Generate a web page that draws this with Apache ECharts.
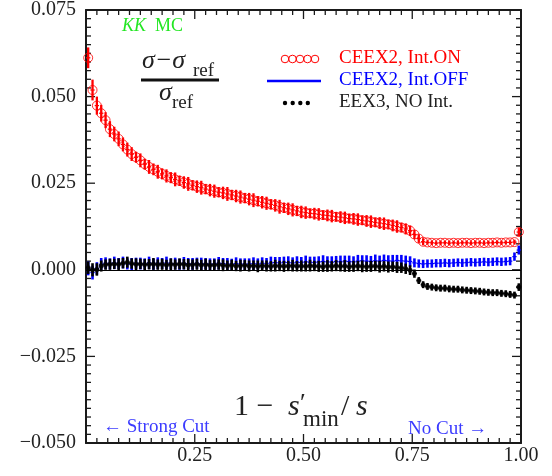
<!DOCTYPE html>
<html>
<head>
<meta charset="utf-8">
<script src="https://cdn.jsdelivr.net/npm/echarts@6/dist/echarts.min.js"></script>
<style>
html, body { margin: 0; padding: 0; background: #fff; }
#main { width: 552px; height: 476px; }
</style>
</head>
<body>
<div id="main"></div>
<script>
// bin centres of 1 - s'min/s
var binX = [
  0.005, 0.015, 0.025, 0.035, 0.045, 0.055, 0.065, 0.075, 0.085, 0.095,
  0.105, 0.115, 0.125, 0.135, 0.145, 0.155, 0.165, 0.175, 0.185, 0.195,
  0.205, 0.215, 0.225, 0.235, 0.245, 0.255, 0.265, 0.275, 0.285, 0.295,
  0.305, 0.315, 0.325, 0.335, 0.345, 0.355, 0.365, 0.375, 0.385, 0.395,
  0.405, 0.415, 0.425, 0.435, 0.445, 0.455, 0.465, 0.475, 0.485, 0.495,
  0.505, 0.515, 0.525, 0.535, 0.545, 0.555, 0.565, 0.575, 0.585, 0.595,
  0.605, 0.615, 0.625, 0.635, 0.645, 0.655, 0.665, 0.675, 0.685, 0.695,
  0.705, 0.715, 0.725, 0.735, 0.745, 0.755, 0.765, 0.775, 0.785, 0.795,
  0.805, 0.815, 0.825, 0.835, 0.845, 0.855, 0.865, 0.875, 0.885, 0.895,
  0.905, 0.915, 0.925, 0.935, 0.945, 0.955, 0.965, 0.975, 0.985, 0.995
];

// CEEX2, Int.ON
var ceexOn = [
  0.0612, 0.0519, 0.0474, 0.0452, 0.0432, 0.0406, 0.0392, 0.0378, 0.0362, 0.0347,
  0.0334, 0.0325, 0.0316, 0.0305, 0.0297, 0.0290, 0.0283, 0.0277, 0.0271, 0.0266,
  0.0261, 0.0257, 0.0252, 0.0248, 0.0244, 0.0240, 0.0237, 0.0233, 0.0230, 0.0227,
  0.0224, 0.0222, 0.0219, 0.0216, 0.0213, 0.0210, 0.0207, 0.0204, 0.0201, 0.0198,
  0.0195, 0.0192, 0.0189, 0.0186, 0.0182, 0.0179, 0.0176, 0.0173, 0.0170, 0.0167,
  0.0165, 0.0163, 0.0162, 0.0160, 0.0158, 0.0157, 0.0155, 0.0153, 0.0152, 0.0150,
  0.0148, 0.0147, 0.0145, 0.0143, 0.0141, 0.0139, 0.0137, 0.0135, 0.0133, 0.0131,
  0.0128, 0.0125, 0.0122, 0.0118, 0.0113, 0.0102, 0.0090, 0.0081, 0.0079, 0.0078,
  0.0077, 0.0078, 0.0078, 0.0077, 0.0078, 0.0077, 0.0078, 0.0078, 0.0077, 0.0078,
  0.0078, 0.0077, 0.0078, 0.0078, 0.0079, 0.0078, 0.0079, 0.0079, 0.0080, 0.0109
];
var ceexOnErr = [
  0.0030, 0.0030, 0.0026, 0.0024, 0.0023, 0.0023, 0.0021, 0.0021, 0.0020, 0.0020,
  0.0020, 0.0016, 0.0020, 0.0016, 0.0020, 0.0017, 0.0020, 0.0016, 0.0019, 0.0016,
  0.0020, 0.0015, 0.0018, 0.0020, 0.0015, 0.0018, 0.0020, 0.0015, 0.0018, 0.0019,
  0.0015, 0.0018, 0.0020, 0.0015, 0.0018, 0.0019, 0.0015, 0.0018, 0.0020, 0.0015,
  0.0018, 0.0019, 0.0015, 0.0018, 0.0020, 0.0015, 0.0018, 0.0019, 0.0015, 0.0018,
  0.0018, 0.0014, 0.0017, 0.0018, 0.0014, 0.0017, 0.0018, 0.0014, 0.0017, 0.0018,
  0.0014, 0.0017, 0.0018, 0.0014, 0.0017, 0.0018, 0.0014, 0.0017, 0.0018, 0.0014,
  0.0017, 0.0018, 0.0014, 0.0016, 0.0015, 0.0013, 0.0012, 0.0010, 0.0006, 0.0006,
  0.0005, 0.0006, 0.0005, 0.0006, 0.0005, 0.0006, 0.0005, 0.0006, 0.0005, 0.0006,
  0.0005, 0.0006, 0.0005, 0.0006, 0.0005, 0.0006, 0.0005, 0.0006, 0.0007, 0.0012
];

// CEEX2, Int.OFF
var ceexOff = [
  0.0004, -0.0008, 0.0004, 0.0016, 0.0019, 0.0017, 0.0020, 0.0018, 0.0021, 0.0017,
  0.0016, 0.0019, 0.0018, 0.0017, 0.0020, 0.0016, 0.0019, 0.0018, 0.0020, 0.0017,
  0.0018, 0.0016, 0.0019, 0.0018, 0.0017, 0.0019, 0.0017, 0.0018, 0.0016, 0.0017,
  0.0019, 0.0018, 0.0017, 0.0016, 0.0018, 0.0017, 0.0016, 0.0017, 0.0018, 0.0017,
  0.0019, 0.0018, 0.0020, 0.0021, 0.0020, 0.0022, 0.0021, 0.0020, 0.0022, 0.0021,
  0.0023, 0.0022, 0.0021, 0.0023, 0.0024, 0.0023, 0.0022, 0.0024, 0.0023, 0.0025,
  0.0024, 0.0023, 0.0025, 0.0026, 0.0025, 0.0024, 0.0026, 0.0025, 0.0027, 0.0026,
  0.0025, 0.0027, 0.0026, 0.0025, 0.0024, 0.0020, 0.0018, 0.0017, 0.0018, 0.0018,
  0.0019, 0.0019, 0.0020, 0.0019, 0.0020, 0.0021, 0.0020, 0.0021, 0.0022, 0.0021,
  0.0022, 0.0023, 0.0022, 0.0023, 0.0024, 0.0023, 0.0024, 0.0025, 0.0038, 0.0057
];
var ceexOffErr = [
  0.0020, 0.0020, 0.0018, 0.0018, 0.0017, 0.0016, 0.0018, 0.0016, 0.0017, 0.0016,
  0.0018, 0.0016, 0.0017, 0.0016, 0.0018, 0.0016, 0.0017, 0.0016, 0.0018, 0.0016,
  0.0017, 0.0016, 0.0018, 0.0016, 0.0017, 0.0016, 0.0018, 0.0016, 0.0017, 0.0016,
  0.0018, 0.0016, 0.0017, 0.0016, 0.0018, 0.0016, 0.0017, 0.0016, 0.0018, 0.0016,
  0.0017, 0.0016, 0.0018, 0.0016, 0.0017, 0.0016, 0.0018, 0.0016, 0.0017, 0.0016,
  0.0018, 0.0016, 0.0017, 0.0016, 0.0018, 0.0016, 0.0017, 0.0016, 0.0018, 0.0016,
  0.0017, 0.0016, 0.0018, 0.0016, 0.0017, 0.0016, 0.0018, 0.0016, 0.0017, 0.0016,
  0.0018, 0.0016, 0.0017, 0.0016, 0.0015, 0.0013, 0.0012, 0.0012, 0.0012, 0.0012,
  0.0012, 0.0012, 0.0012, 0.0012, 0.0012, 0.0012, 0.0012, 0.0012, 0.0012, 0.0012,
  0.0012, 0.0012, 0.0012, 0.0012, 0.0012, 0.0012, 0.0012, 0.0012, 0.0012, 0.0013
];

// EEX3, NO Int.
var eex3 = [
  0.0006, 0.0000, 0.0001, 0.0011, 0.0015, 0.0016, 0.0017, 0.0016, 0.0019, 0.0022,
  0.0018, 0.0016, 0.0017, 0.0015, 0.0016, 0.0017, 0.0015, 0.0016, 0.0014, 0.0016,
  0.0015, 0.0017, 0.0016, 0.0014, 0.0015, 0.0016, 0.0014, 0.0015, 0.0013, 0.0014,
  0.0015, 0.0013, 0.0012, 0.0013, 0.0011, 0.0012, 0.0013, 0.0011, 0.0012, 0.0010,
  0.0012, 0.0011, 0.0010, 0.0012, 0.0011, 0.0010, 0.0011, 0.0012, 0.0010, 0.0011,
  0.0010, 0.0012, 0.0011, 0.0010, 0.0009, 0.0011, 0.0010, 0.0012, 0.0010, 0.0011,
  0.0009, 0.0010, 0.0011, 0.0010, 0.0009, 0.0010, 0.0011, 0.0009, 0.0010, 0.0008,
  0.0009, 0.0007, 0.0006, 0.0003, -0.0001, -0.0011, -0.0031, -0.0043, -0.0048, -0.0050,
  -0.0052, -0.0053, -0.0053, -0.0055, -0.0056, -0.0056, -0.0058, -0.0059, -0.0060, -0.0061,
  -0.0062, -0.0064, -0.0065, -0.0066, -0.0066, -0.0068, -0.0069, -0.0071, -0.0073, -0.0050
];
var eex3Err = [
  0.0018, 0.0019, 0.0018, 0.0016, 0.0015, 0.0016, 0.0015, 0.0017, 0.0015, 0.0016,
  0.0015, 0.0017, 0.0015, 0.0016, 0.0015, 0.0017, 0.0015, 0.0016, 0.0015, 0.0017,
  0.0015, 0.0016, 0.0015, 0.0017, 0.0015, 0.0016, 0.0015, 0.0017, 0.0015, 0.0016,
  0.0015, 0.0017, 0.0015, 0.0016, 0.0015, 0.0017, 0.0015, 0.0016, 0.0015, 0.0017,
  0.0015, 0.0016, 0.0015, 0.0017, 0.0015, 0.0016, 0.0015, 0.0017, 0.0015, 0.0016,
  0.0015, 0.0017, 0.0015, 0.0016, 0.0015, 0.0017, 0.0015, 0.0016, 0.0015, 0.0017,
  0.0015, 0.0016, 0.0015, 0.0017, 0.0015, 0.0016, 0.0015, 0.0017, 0.0015, 0.0016,
  0.0015, 0.0016, 0.0015, 0.0015, 0.0014, 0.0012, 0.0010, 0.0010, 0.0010, 0.0010,
  0.0010, 0.0010, 0.0010, 0.0010, 0.0010, 0.0010, 0.0010, 0.0010, 0.0010, 0.0010,
  0.0010, 0.0010, 0.0010, 0.0010, 0.0010, 0.0010, 0.0010, 0.0010, 0.0010, 0.0011
];

var xTickLabels = ['', '0.25', '0.50', '0.75', '1.00'];
var yTickLabels = ['\u22120.050', '\u22120.025', '0.000', '0.025', '0.050', '0.075'];

var X_MIN = 0, X_MAX = 1, Y_MIN = -0.05, Y_MAX = 0.075;
var SERIF = '"Liberation Serif", "DejaVu Serif", serif';
var RED = '#ff0000', BLUE = '#0000ff', BLACK = '#000000', INK = '#1a1a1a';

// tick marks of the frame: [value, kind] kind 0 x-major, 1 x-minor, 2 y-major, 3 y-minor
var frameTicks = [];
for (var i = 1; i < 40; i++) frameTicks.push([i * 0.025, i % 10 === 0 ? 0 : 1]);
for (var j = 1; j < 50; j++) frameTicks.push([Y_MIN + j * 0.0025, j % 10 === 0 ? 2 : 3]);

function pack(ys, errs) {
  return binX.map(function (x, i) { return [x, ys[i], errs[i]]; });
}

// vertical error bar + horizontal bin segment
function errBars(color, barWidth) {
  return function (params, api) {
    var x = api.value(0), y = api.value(1), e = api.value(2);
    var lo = api.coord([x, y - e]), hi = api.coord([x, y + e]);
    var l = api.coord([x - 0.005, y]), r = api.coord([x + 0.005, y]);
    return {
      type: 'group',
      children: [
        { type: 'line', shape: { x1: lo[0], y1: lo[1], x2: hi[0], y2: hi[1] },
          style: { stroke: color, lineWidth: barWidth } },
        { type: 'line', shape: { x1: l[0], y1: l[1], x2: r[0], y2: r[1] },
          style: { stroke: color, lineWidth: 1.2 } }
      ]
    };
  };
}

// inward ticks on all four sides, placed through the axes' scales
function renderTicks(params, api) {
  var v = api.value(0), kind = api.value(1);
  var len = (kind === 0 || kind === 2) ? 9 : 5;
  var st = { stroke: INK, lineWidth: 1.3 };
  var a, b;
  if (kind < 2) {
    a = api.coord([v, Y_MIN]); b = api.coord([v, Y_MAX]);
    return { type: 'group', children: [
      { type: 'line', shape: { x1: a[0], y1: a[1], x2: a[0], y2: a[1] - len }, style: st },
      { type: 'line', shape: { x1: b[0], y1: b[1], x2: b[0], y2: b[1] + len }, style: st }
    ] };
  }
  a = api.coord([X_MIN, v]); b = api.coord([X_MAX, v]);
  return { type: 'group', children: [
    { type: 'line', shape: { x1: a[0], y1: a[1], x2: a[0] + len, y2: a[1] }, style: st },
    { type: 'line', shape: { x1: b[0], y1: b[1], x2: b[0] - len, y2: b[1] }, style: st }
  ] };
}

function frameAxis(extra) {
  var o = {
    type: 'value',
    axisLine: { show: true, onZero: false, lineStyle: { color: INK, width: 2 } },
    axisTick: { show: false },
    minorTick: { show: false },
    splitLine: { show: false }
  };
  for (var k in extra) o[k] = extra[k];
  return o;
}

var labelFont = { fontFamily: SERIF, fontSize: 20, color: '#222' };

var chart = echarts.init(document.getElementById('main'));

var option = {
  animation: false,
  backgroundColor: '#fff',
  grid: { left: 86, right: 31, top: 9, bottom: 33 },
  xAxis: [
    frameAxis({ min: X_MIN, max: X_MAX, interval: 0.25,
      axisLabel: Object.assign({ margin: 3, formatter: function (v) {
        return xTickLabels[Math.round(v / 0.25)] || '';
      } }, labelFont) }),
    frameAxis({ position: 'top', min: X_MIN, max: X_MAX, interval: 0.25, axisLabel: { show: false } })
  ],
  yAxis: [
    frameAxis({ min: Y_MIN, max: Y_MAX, interval: 0.025,
      axisLabel: Object.assign({ margin: 10, formatter: function (v) {
        return yTickLabels[Math.round((v - Y_MIN) / 0.025)] || '';
      } }, labelFont) }),
    frameAxis({ position: 'right', min: Y_MIN, max: Y_MAX, interval: 0.025, axisLabel: { show: false } })
  ],
  series: [
    {
      name: 'ticks',
      type: 'custom',
      silent: true,
      renderItem: renderTicks,
      data: frameTicks,
      encode: { x: 0 }
    },
    {
      name: 'CEEX2, Int.OFF',
      type: 'custom',
      renderItem: errBars(BLUE, 2.6),
      data: pack(ceexOff, ceexOffErr),
      encode: { x: 0, y: 1 },
      markLine: {
        silent: true,
        symbol: 'none',
        label: { show: false },
        lineStyle: { color: '#000', width: 1, type: 'solid' },
        data: [{ yAxis: 0 }]
      }
    },
    {
      name: 'EEX3, NO Int.',
      type: 'custom',
      renderItem: errBars(BLACK, 2.6),
      data: pack(eex3, eex3Err),
      encode: { x: 0, y: 1 }
    },
    {
      name: 'EEX3 dots',
      type: 'scatter',
      data: binX.map(function (x, i) { return [x, eex3[i]]; }),
      symbol: 'circle',
      symbolSize: 5,
      itemStyle: { color: BLACK }
    },
    {
      name: 'CEEX2, Int.ON',
      type: 'custom',
      renderItem: errBars(RED, 2.3),
      data: pack(ceexOn, ceexOnErr),
      encode: { x: 0, y: 1 }
    },
    {
      name: 'CEEX2 circles',
      type: 'scatter',
      data: binX.map(function (x, i) { return [x, ceexOn[i]]; }),
      symbol: 'circle',
      symbolSize: 9,
      itemStyle: { color: 'transparent', borderColor: RED, borderWidth: 1 }
    }
  ],
  graphic: [
    // KK MC
    { type: 'text', left: 122, top: 17, style: { text: 'KK', fill: '#22e622', font: 'italic 18px ' + SERIF } },
    { type: 'text', left: 155, top: 17, style: { text: 'MC', fill: '#22e622', font: '18px ' + SERIF } },
    // (sigma - sigma_ref) / sigma_ref
    { type: 'text', left: 142, top: 48, style: { text: '\u03c3\u2212\u03c3', fill: '#222', font: 'italic 26px ' + SERIF } },
    { type: 'text', left: 193, top: 62, style: { text: 'ref', fill: '#222', font: '19px ' + SERIF } },
    { type: 'rect', shape: { x: 141, y: 78.5, width: 78, height: 3 }, style: { fill: '#111' } },
    { type: 'text', left: 159, top: 80, style: { text: '\u03c3', fill: '#222', font: 'italic 26px ' + SERIF } },
    { type: 'text', left: 172, top: 94, style: { text: 'ref', fill: '#222', font: '19px ' + SERIF } },

    // legend samples
    { type: 'circle', shape: { cx: 285, cy: 59, r: 3.8 }, style: { fill: 'none', stroke: RED, lineWidth: 1 } },
    { type: 'circle', shape: { cx: 292.5, cy: 59, r: 3.8 }, style: { fill: 'none', stroke: RED, lineWidth: 1 } },
    { type: 'circle', shape: { cx: 300, cy: 59, r: 3.8 }, style: { fill: 'none', stroke: RED, lineWidth: 1 } },
    { type: 'circle', shape: { cx: 307.5, cy: 59, r: 3.8 }, style: { fill: 'none', stroke: RED, lineWidth: 1 } },
    { type: 'circle', shape: { cx: 315, cy: 59, r: 3.8 }, style: { fill: 'none', stroke: RED, lineWidth: 1 } },
    { type: 'line', shape: { x1: 267, y1: 81, x2: 321, y2: 81 }, style: { stroke: BLUE, lineWidth: 2.5 } },
    { type: 'circle', shape: { cx: 285, cy: 103, r: 2.2 }, style: { fill: BLACK } },
    { type: 'circle', shape: { cx: 292.7, cy: 103, r: 2.2 }, style: { fill: BLACK } },
    { type: 'circle', shape: { cx: 300.3, cy: 103, r: 2.2 }, style: { fill: BLACK } },
    { type: 'circle', shape: { cx: 307.8, cy: 103, r: 2.2 }, style: { fill: BLACK } },
    { type: 'text', left: 339, top: 49, style: { text: 'CEEX2, Int.ON', fill: RED, font: '19px ' + SERIF } },
    { type: 'text', left: 339, top: 71, style: { text: 'CEEX2, Int.OFF', fill: BLUE, font: '19px ' + SERIF } },
    { type: 'text', left: 339, top: 93, style: { text: 'EEX3, NO Int.', fill: '#222', font: '19px ' + SERIF } },

    // x axis title: 1 - s'_min / s
    { type: 'text', left: 234, top: 392, style: { text: '1 \u2212', fill: '#222', font: '30px ' + SERIF } },
    { type: 'text', left: 288, top: 392, style: { text: 's', fill: '#222', font: 'italic 30px ' + SERIF } },
    { type: 'text', left: 300, top: 391, style: { text: '\u2032', fill: '#222', font: '26px ' + SERIF } },
    { type: 'text', left: 303, top: 408, style: { text: 'min', fill: '#222', font: '23px ' + SERIF } },
    { type: 'text', left: 341, top: 392, style: { text: '/', fill: '#222', font: '30px ' + SERIF } },
    { type: 'text', left: 356, top: 392, style: { text: 's', fill: '#222', font: 'italic 30px ' + SERIF } },

    // cut direction notes
    { type: 'text', left: 103, top: 418, style: { text: '\u2190 Strong Cut', fill: '#3b3bff', font: '19px ' + SERIF } },
    { type: 'text', left: 408, top: 420, style: { text: 'No Cut \u2192', fill: '#3b3bff', font: '19px ' + SERIF } }
  ]
};

chart.setOption(option);
</script>
</body>
</html>
